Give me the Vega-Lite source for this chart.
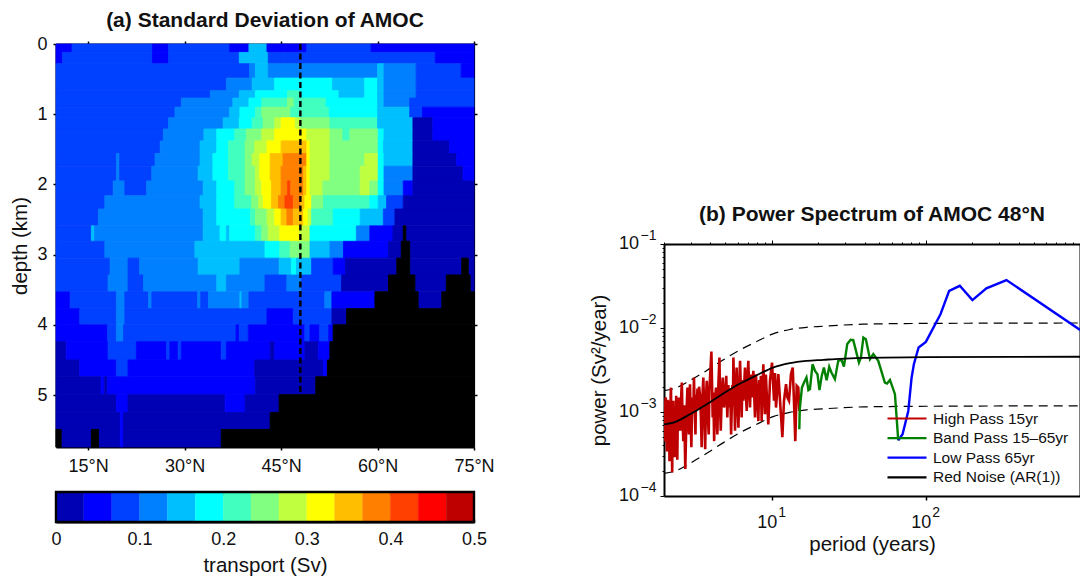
{"$schema":"https://vega.github.io/schema/vega-lite/v6.json","background":"white","padding":{"left":10,"top":9,"right":0,"bottom":0},"bounds":"flush","spacing":608,
"config":{"font":"Liberation Sans","view":{"stroke":null},"axis":{"labelColor":"#111","titleColor":"#111","tickColor":"black","domainColor":"black","grid":false,"labelFont":"Liberation Sans","titleFont":"Liberation Sans","labelFontSize":18,"titleFontSize":20.5,"titleFontWeight":"normal","domainWidth":2,"tickWidth":1.5,"zindex":1}},
"datasets":{
"cells":[
{"lat0":10,"lat1":12.5,"z0":0,"z1":0.12,"sv":0.05},{"lat0":12.5,"lat1":25,"z0":0,"z1":0.12,"sv":0.083},{"lat0":25,"lat1":27.5,"z0":0,"z1":0.12,"sv":0.05},{"lat0":27.5,"lat1":37,"z0":0,"z1":0.12,"sv":0.083},{"lat0":37,"lat1":40,"z0":0,"z1":0.12,"sv":0.05},{"lat0":40,"lat1":42.8,"z0":0,"z1":0.12,"sv":0.15},{"lat0":42.8,"lat1":49,"z0":0,"z1":0.12,"sv":0.05},{"lat0":49,"lat1":59,"z0":0,"z1":0.12,"sv":0.083},{"lat0":59,"lat1":75,"z0":0,"z1":0.12,"sv":0.05},
{"lat0":10,"lat1":11,"z0":0.12,"z1":0.28,"sv":0.05},{"lat0":11,"lat1":25,"z0":0.12,"z1":0.28,"sv":0.083},{"lat0":25,"lat1":27.5,"z0":0.12,"z1":0.28,"sv":0.05},{"lat0":27.5,"lat1":38.5,"z0":0.12,"z1":0.28,"sv":0.083},{"lat0":38.5,"lat1":43,"z0":0.12,"z1":0.28,"sv":0.15},{"lat0":43,"lat1":45.5,"z0":0.12,"z1":0.28,"sv":0.083},{"lat0":45.5,"lat1":60,"z0":0.12,"z1":0.28,"sv":0.083},{"lat0":60,"lat1":69,"z0":0.12,"z1":0.28,"sv":0.083},{"lat0":69,"lat1":75,"z0":0.12,"z1":0.28,"sv":0.05},
{"lat0":10,"lat1":40.1,"z0":0.28,"z1":0.485,"sv":0.083},{"lat0":40.1,"lat1":41,"z0":0.28,"z1":0.485,"sv":0.117},{"lat0":41,"lat1":43,"z0":0.28,"z1":0.485,"sv":0.15},{"lat0":43,"lat1":60,"z0":0.28,"z1":0.485,"sv":0.117},{"lat0":60,"lat1":61,"z0":0.28,"z1":0.485,"sv":0.15},{"lat0":61,"lat1":66,"z0":0.28,"z1":0.485,"sv":0.117},{"lat0":66,"lat1":73,"z0":0.28,"z1":0.485,"sv":0.083},{"lat0":73,"lat1":75,"z0":0.28,"z1":0.485,"sv":0.05},
{"lat0":10,"lat1":36.5,"z0":0.485,"z1":0.665,"sv":0.083},{"lat0":36.5,"lat1":40.5,"z0":0.485,"z1":0.665,"sv":0.117},{"lat0":40.5,"lat1":44,"z0":0.485,"z1":0.665,"sv":0.15},{"lat0":44,"lat1":53,"z0":0.485,"z1":0.665,"sv":0.183},{"lat0":53,"lat1":58,"z0":0.485,"z1":0.665,"sv":0.15},{"lat0":58,"lat1":60,"z0":0.485,"z1":0.665,"sv":0.183},{"lat0":60,"lat1":61,"z0":0.485,"z1":0.665,"sv":0.15},{"lat0":61,"lat1":66,"z0":0.485,"z1":0.665,"sv":0.117},{"lat0":66,"lat1":75,"z0":0.485,"z1":0.665,"sv":0.083},
{"lat0":10,"lat1":34,"z0":0.665,"z1":0.77,"sv":0.083},{"lat0":34,"lat1":38.5,"z0":0.665,"z1":0.77,"sv":0.117},{"lat0":38.5,"lat1":41,"z0":0.665,"z1":0.77,"sv":0.15},{"lat0":41,"lat1":46,"z0":0.665,"z1":0.77,"sv":0.183},{"lat0":46,"lat1":48,"z0":0.665,"z1":0.77,"sv":0.217},{"lat0":48,"lat1":54,"z0":0.665,"z1":0.77,"sv":0.183},{"lat0":54,"lat1":58,"z0":0.665,"z1":0.77,"sv":0.15},{"lat0":58,"lat1":60,"z0":0.665,"z1":0.77,"sv":0.183},{"lat0":60,"lat1":61,"z0":0.665,"z1":0.77,"sv":0.15},{"lat0":61,"lat1":66,"z0":0.665,"z1":0.77,"sv":0.117},{"lat0":66,"lat1":75,"z0":0.665,"z1":0.77,"sv":0.083},
{"lat0":10,"lat1":29.5,"z0":0.77,"z1":0.9,"sv":0.083},{"lat0":29.5,"lat1":37.5,"z0":0.77,"z1":0.9,"sv":0.117},{"lat0":37.5,"lat1":40,"z0":0.77,"z1":0.9,"sv":0.15},{"lat0":40,"lat1":42,"z0":0.77,"z1":0.9,"sv":0.183},{"lat0":42,"lat1":46,"z0":0.77,"z1":0.9,"sv":0.217},{"lat0":46,"lat1":47,"z0":0.77,"z1":0.9,"sv":0.25},{"lat0":47,"lat1":52,"z0":0.77,"z1":0.9,"sv":0.217},{"lat0":52,"lat1":60,"z0":0.77,"z1":0.9,"sv":0.183},{"lat0":60,"lat1":61,"z0":0.77,"z1":0.9,"sv":0.15},{"lat0":61,"lat1":65,"z0":0.77,"z1":0.9,"sv":0.117},{"lat0":65,"lat1":75,"z0":0.77,"z1":0.9,"sv":0.083},
{"lat0":10,"lat1":28.5,"z0":0.9,"z1":1.05,"sv":0.083},{"lat0":28.5,"lat1":37,"z0":0.9,"z1":1.05,"sv":0.117},{"lat0":37,"lat1":38.6,"z0":0.9,"z1":1.05,"sv":0.15},{"lat0":38.6,"lat1":41,"z0":0.9,"z1":1.05,"sv":0.183},{"lat0":41,"lat1":42,"z0":0.9,"z1":1.05,"sv":0.217},{"lat0":42,"lat1":46.5,"z0":0.9,"z1":1.05,"sv":0.25},{"lat0":46.5,"lat1":52.5,"z0":0.9,"z1":1.05,"sv":0.217},{"lat0":52.5,"lat1":60,"z0":0.9,"z1":1.05,"sv":0.183},{"lat0":60,"lat1":65,"z0":0.9,"z1":1.05,"sv":0.15},{"lat0":65,"lat1":67,"z0":0.9,"z1":1.05,"sv":0.083},{"lat0":67,"lat1":75,"z0":0.9,"z1":1.05,"sv":0.05},
{"lat0":10,"lat1":27.5,"z0":1.05,"z1":1.21,"sv":0.083},{"lat0":27.5,"lat1":36,"z0":1.05,"z1":1.21,"sv":0.117},{"lat0":36,"lat1":38.5,"z0":1.05,"z1":1.21,"sv":0.15},{"lat0":38.5,"lat1":40.5,"z0":1.05,"z1":1.21,"sv":0.183},{"lat0":40.5,"lat1":42.2,"z0":1.05,"z1":1.21,"sv":0.217},{"lat0":42.2,"lat1":44,"z0":1.05,"z1":1.21,"sv":0.25},{"lat0":44,"lat1":45,"z0":1.05,"z1":1.21,"sv":0.283},{"lat0":45,"lat1":47.2,"z0":1.05,"z1":1.21,"sv":0.317},{"lat0":47.2,"lat1":48,"z0":1.05,"z1":1.21,"sv":0.283},{"lat0":48,"lat1":52.6,"z0":1.05,"z1":1.21,"sv":0.25},{"lat0":52.6,"lat1":60,"z0":1.05,"z1":1.21,"sv":0.217},{"lat0":60,"lat1":65.5,"z0":1.05,"z1":1.21,"sv":0.15},{"lat0":65.5,"lat1":68.6,"z0":1.05,"z1":1.21,"sv":0.017},{"lat0":68.6,"lat1":75,"z0":1.05,"z1":1.21,"sv":0.05},
{"lat0":10,"lat1":26.7,"z0":1.21,"z1":1.38,"sv":0.083},{"lat0":26.7,"lat1":33,"z0":1.21,"z1":1.38,"sv":0.117},{"lat0":33,"lat1":35,"z0":1.21,"z1":1.38,"sv":0.15},{"lat0":35,"lat1":37.8,"z0":1.21,"z1":1.38,"sv":0.183},{"lat0":37.8,"lat1":39.6,"z0":1.21,"z1":1.38,"sv":0.217},{"lat0":39.6,"lat1":42,"z0":1.21,"z1":1.38,"sv":0.25},{"lat0":42,"lat1":44,"z0":1.21,"z1":1.38,"sv":0.283},{"lat0":44,"lat1":49,"z0":1.21,"z1":1.38,"sv":0.317},{"lat0":49,"lat1":52.6,"z0":1.21,"z1":1.38,"sv":0.283},{"lat0":52.6,"lat1":54.6,"z0":1.21,"z1":1.38,"sv":0.25},{"lat0":54.6,"lat1":55.7,"z0":1.21,"z1":1.38,"sv":0.217},{"lat0":55.7,"lat1":60.1,"z0":1.21,"z1":1.38,"sv":0.25},{"lat0":60.1,"lat1":61,"z0":1.21,"z1":1.38,"sv":0.183},{"lat0":61,"lat1":65.5,"z0":1.21,"z1":1.38,"sv":0.15},{"lat0":65.5,"lat1":68.6,"z0":1.21,"z1":1.38,"sv":0.017},{"lat0":68.6,"lat1":75,"z0":1.21,"z1":1.38,"sv":0.05},
{"lat0":10,"lat1":26.2,"z0":1.38,"z1":1.56,"sv":0.083},{"lat0":26.2,"lat1":32.4,"z0":1.38,"z1":1.56,"sv":0.117},{"lat0":32.4,"lat1":35,"z0":1.38,"z1":1.56,"sv":0.15},{"lat0":35,"lat1":36.8,"z0":1.38,"z1":1.56,"sv":0.183},{"lat0":36.8,"lat1":39.4,"z0":1.38,"z1":1.56,"sv":0.217},{"lat0":39.4,"lat1":40.9,"z0":1.38,"z1":1.56,"sv":0.25},{"lat0":40.9,"lat1":42.8,"z0":1.38,"z1":1.56,"sv":0.283},{"lat0":42.8,"lat1":45,"z0":1.38,"z1":1.56,"sv":0.317},{"lat0":45,"lat1":49,"z0":1.38,"z1":1.56,"sv":0.35},{"lat0":49,"lat1":49.5,"z0":1.38,"z1":1.56,"sv":0.317},{"lat0":49.5,"lat1":52.6,"z0":1.38,"z1":1.56,"sv":0.283},{"lat0":52.6,"lat1":60.1,"z0":1.38,"z1":1.56,"sv":0.25},{"lat0":60.1,"lat1":60.9,"z0":1.38,"z1":1.56,"sv":0.183},{"lat0":60.9,"lat1":65.5,"z0":1.38,"z1":1.56,"sv":0.15},{"lat0":65.5,"lat1":71.2,"z0":1.38,"z1":1.56,"sv":0.017},{"lat0":71.2,"lat1":75,"z0":1.38,"z1":1.56,"sv":0.05},
{"lat0":10,"lat1":19.4,"z0":1.56,"z1":1.74,"sv":0.083},{"lat0":19.4,"lat1":19.9,"z0":1.56,"z1":1.74,"sv":0.117},{"lat0":19.9,"lat1":25.4,"z0":1.56,"z1":1.74,"sv":0.083},{"lat0":25.4,"lat1":32.4,"z0":1.56,"z1":1.74,"sv":0.117},{"lat0":32.4,"lat1":34.4,"z0":1.56,"z1":1.74,"sv":0.15},{"lat0":34.4,"lat1":36.8,"z0":1.56,"z1":1.74,"sv":0.183},{"lat0":36.8,"lat1":39.4,"z0":1.56,"z1":1.74,"sv":0.217},{"lat0":39.4,"lat1":40.5,"z0":1.56,"z1":1.74,"sv":0.25},{"lat0":40.5,"lat1":41.7,"z0":1.56,"z1":1.74,"sv":0.283},{"lat0":41.7,"lat1":43.3,"z0":1.56,"z1":1.74,"sv":0.317},{"lat0":43.3,"lat1":45.3,"z0":1.56,"z1":1.74,"sv":0.35},{"lat0":45.3,"lat1":49,"z0":1.56,"z1":1.74,"sv":0.383},{"lat0":49,"lat1":49.5,"z0":1.56,"z1":1.74,"sv":0.317},{"lat0":49.5,"lat1":52.6,"z0":1.56,"z1":1.74,"sv":0.283},{"lat0":52.6,"lat1":58,"z0":1.56,"z1":1.74,"sv":0.25},{"lat0":58,"lat1":60.1,"z0":1.56,"z1":1.74,"sv":0.283},{"lat0":60.1,"lat1":61,"z0":1.56,"z1":1.74,"sv":0.183},{"lat0":61,"lat1":65.5,"z0":1.56,"z1":1.74,"sv":0.15},{"lat0":65.5,"lat1":72.3,"z0":1.56,"z1":1.74,"sv":0.017},{"lat0":72.3,"lat1":75,"z0":1.56,"z1":1.74,"sv":0.05},
{"lat0":10,"lat1":19.4,"z0":1.74,"z1":1.95,"sv":0.083},{"lat0":19.4,"lat1":19.9,"z0":1.74,"z1":1.95,"sv":0.117},{"lat0":19.9,"lat1":24.9,"z0":1.74,"z1":1.95,"sv":0.083},{"lat0":24.9,"lat1":32.1,"z0":1.74,"z1":1.95,"sv":0.117},{"lat0":32.1,"lat1":34.4,"z0":1.74,"z1":1.95,"sv":0.15},{"lat0":34.4,"lat1":36.8,"z0":1.74,"z1":1.95,"sv":0.183},{"lat0":36.8,"lat1":39.4,"z0":1.74,"z1":1.95,"sv":0.217},{"lat0":39.4,"lat1":41,"z0":1.74,"z1":1.95,"sv":0.25},{"lat0":41,"lat1":41.7,"z0":1.74,"z1":1.95,"sv":0.283},{"lat0":41.7,"lat1":43.3,"z0":1.74,"z1":1.95,"sv":0.317},{"lat0":43.3,"lat1":45,"z0":1.74,"z1":1.95,"sv":0.35},{"lat0":45,"lat1":48.5,"z0":1.74,"z1":1.95,"sv":0.383},{"lat0":48.5,"lat1":49,"z0":1.74,"z1":1.95,"sv":0.35},{"lat0":49,"lat1":49.5,"z0":1.74,"z1":1.95,"sv":0.317},{"lat0":49.5,"lat1":52.6,"z0":1.74,"z1":1.95,"sv":0.283},{"lat0":52.6,"lat1":57.3,"z0":1.74,"z1":1.95,"sv":0.25},{"lat0":57.3,"lat1":60.1,"z0":1.74,"z1":1.95,"sv":0.283},{"lat0":60.1,"lat1":61,"z0":1.74,"z1":1.95,"sv":0.183},{"lat0":61,"lat1":65.5,"z0":1.74,"z1":1.95,"sv":0.117},{"lat0":65.5,"lat1":73.3,"z0":1.74,"z1":1.95,"sv":0.017},{"lat0":73.3,"lat1":75,"z0":1.74,"z1":1.95,"sv":0.05},
{"lat0":10,"lat1":18.9,"z0":1.95,"z1":2.16,"sv":0.083},{"lat0":18.9,"lat1":20.7,"z0":1.95,"z1":2.16,"sv":0.117},{"lat0":20.7,"lat1":24.1,"z0":1.95,"z1":2.16,"sv":0.083},{"lat0":24.1,"lat1":32.9,"z0":1.95,"z1":2.16,"sv":0.117},{"lat0":32.9,"lat1":35,"z0":1.95,"z1":2.16,"sv":0.15},{"lat0":35,"lat1":37.8,"z0":1.95,"z1":2.16,"sv":0.183},{"lat0":37.8,"lat1":39.4,"z0":1.95,"z1":2.16,"sv":0.217},{"lat0":39.4,"lat1":41,"z0":1.95,"z1":2.16,"sv":0.25},{"lat0":41,"lat1":42,"z0":1.95,"z1":2.16,"sv":0.283},{"lat0":42,"lat1":43.5,"z0":1.95,"z1":2.16,"sv":0.317},{"lat0":43.5,"lat1":45,"z0":1.95,"z1":2.16,"sv":0.35},{"lat0":45,"lat1":46,"z0":1.95,"z1":2.16,"sv":0.383},{"lat0":46,"lat1":46.5,"z0":1.95,"z1":2.16,"sv":0.417},{"lat0":46.5,"lat1":48.5,"z0":1.95,"z1":2.16,"sv":0.383},{"lat0":48.5,"lat1":49,"z0":1.95,"z1":2.16,"sv":0.35},{"lat0":49,"lat1":49.5,"z0":1.95,"z1":2.16,"sv":0.317},{"lat0":49.5,"lat1":51.5,"z0":1.95,"z1":2.16,"sv":0.283},{"lat0":51.5,"lat1":57.3,"z0":1.95,"z1":2.16,"sv":0.25},{"lat0":57.3,"lat1":58.8,"z0":1.95,"z1":2.16,"sv":0.283},{"lat0":58.8,"lat1":60.1,"z0":1.95,"z1":2.16,"sv":0.25},{"lat0":60.1,"lat1":61,"z0":1.95,"z1":2.16,"sv":0.183},{"lat0":61,"lat1":64,"z0":1.95,"z1":2.16,"sv":0.117},{"lat0":64,"lat1":65.5,"z0":1.95,"z1":2.16,"sv":0.05},{"lat0":65.5,"lat1":75,"z0":1.95,"z1":2.16,"sv":0.017},
{"lat0":10,"lat1":17.6,"z0":2.16,"z1":2.35,"sv":0.083},{"lat0":17.6,"lat1":32.4,"z0":2.16,"z1":2.35,"sv":0.117},{"lat0":32.4,"lat1":35,"z0":2.16,"z1":2.35,"sv":0.15},{"lat0":35,"lat1":37.8,"z0":2.16,"z1":2.35,"sv":0.183},{"lat0":37.8,"lat1":40.4,"z0":2.16,"z1":2.35,"sv":0.217},{"lat0":40.4,"lat1":41.5,"z0":2.16,"z1":2.35,"sv":0.25},{"lat0":41.5,"lat1":42.2,"z0":2.16,"z1":2.35,"sv":0.283},{"lat0":42.2,"lat1":43.5,"z0":2.16,"z1":2.35,"sv":0.317},{"lat0":43.5,"lat1":44.6,"z0":2.16,"z1":2.35,"sv":0.35},{"lat0":44.6,"lat1":45.6,"z0":2.16,"z1":2.35,"sv":0.383},{"lat0":45.6,"lat1":46.9,"z0":2.16,"z1":2.35,"sv":0.417},{"lat0":46.9,"lat1":48,"z0":2.16,"z1":2.35,"sv":0.383},{"lat0":48,"lat1":48.7,"z0":2.16,"z1":2.35,"sv":0.35},{"lat0":48.7,"lat1":49.75,"z0":2.16,"z1":2.35,"sv":0.317},{"lat0":49.75,"lat1":51.6,"z0":2.16,"z1":2.35,"sv":0.25},{"lat0":51.6,"lat1":58.8,"z0":2.16,"z1":2.35,"sv":0.217},{"lat0":58.8,"lat1":60.1,"z0":2.16,"z1":2.35,"sv":0.183},{"lat0":60.1,"lat1":61.4,"z0":2.16,"z1":2.35,"sv":0.15},{"lat0":61.4,"lat1":64,"z0":2.16,"z1":2.35,"sv":0.083},{"lat0":64,"lat1":75,"z0":2.16,"z1":2.35,"sv":0.017},
{"lat0":10,"lat1":16.6,"z0":2.35,"z1":2.59,"sv":0.083},{"lat0":16.6,"lat1":32.9,"z0":2.35,"z1":2.59,"sv":0.117},{"lat0":32.9,"lat1":35,"z0":2.35,"z1":2.59,"sv":0.15},{"lat0":35,"lat1":40.2,"z0":2.35,"z1":2.59,"sv":0.183},{"lat0":40.2,"lat1":41,"z0":2.35,"z1":2.59,"sv":0.217},{"lat0":41,"lat1":42.8,"z0":2.35,"z1":2.59,"sv":0.25},{"lat0":42.8,"lat1":44,"z0":2.35,"z1":2.59,"sv":0.283},{"lat0":44,"lat1":45,"z0":2.35,"z1":2.59,"sv":0.317},{"lat0":45,"lat1":45.9,"z0":2.35,"z1":2.59,"sv":0.35},{"lat0":45.9,"lat1":46.9,"z0":2.35,"z1":2.59,"sv":0.383},{"lat0":46.9,"lat1":48.5,"z0":2.35,"z1":2.59,"sv":0.35},{"lat0":48.5,"lat1":49.2,"z0":2.35,"z1":2.59,"sv":0.317},{"lat0":49.2,"lat1":49.75,"z0":2.35,"z1":2.59,"sv":0.283},{"lat0":49.75,"lat1":53.1,"z0":2.35,"z1":2.59,"sv":0.217},{"lat0":53.1,"lat1":57.3,"z0":2.35,"z1":2.59,"sv":0.183},{"lat0":57.3,"lat1":60.9,"z0":2.35,"z1":2.59,"sv":0.15},{"lat0":60.9,"lat1":62.7,"z0":2.35,"z1":2.59,"sv":0.083},{"lat0":62.7,"lat1":75,"z0":2.35,"z1":2.59,"sv":0.017},
{"lat0":10,"lat1":15.5,"z0":2.59,"z1":2.81,"sv":0.083},{"lat0":15.5,"lat1":16,"z0":2.59,"z1":2.81,"sv":0.15},{"lat0":16,"lat1":32.9,"z0":2.59,"z1":2.81,"sv":0.117},{"lat0":32.9,"lat1":35.5,"z0":2.59,"z1":2.81,"sv":0.15},{"lat0":35.5,"lat1":36.5,"z0":2.59,"z1":2.81,"sv":0.183},{"lat0":36.5,"lat1":37,"z0":2.59,"z1":2.81,"sv":0.15},{"lat0":37,"lat1":41,"z0":2.59,"z1":2.81,"sv":0.183},{"lat0":41,"lat1":42,"z0":2.59,"z1":2.81,"sv":0.217},{"lat0":42,"lat1":43,"z0":2.59,"z1":2.81,"sv":0.25},{"lat0":43,"lat1":44.8,"z0":2.59,"z1":2.81,"sv":0.283},{"lat0":44.8,"lat1":47.9,"z0":2.59,"z1":2.81,"sv":0.317},{"lat0":47.9,"lat1":49.5,"z0":2.59,"z1":2.81,"sv":0.283},{"lat0":49.5,"lat1":56.7,"z0":2.59,"z1":2.81,"sv":0.183},{"lat0":56.7,"lat1":58.8,"z0":2.59,"z1":2.81,"sv":0.117},{"lat0":58.8,"lat1":62.4,"z0":2.59,"z1":2.81,"sv":0.05},{"lat0":62.4,"lat1":64,"z0":2.59,"z1":2.81,"sv":0.017},{"lat0":64.4,"lat1":75,"z0":2.59,"z1":2.81,"sv":0.017},
{"lat0":10,"lat1":17.6,"z0":2.81,"z1":3.05,"sv":0.083},{"lat0":17.6,"lat1":31.6,"z0":2.81,"z1":3.05,"sv":0.117},{"lat0":31.6,"lat1":42.5,"z0":2.81,"z1":3.05,"sv":0.15},{"lat0":42.5,"lat1":44.8,"z0":2.81,"z1":3.05,"sv":0.183},{"lat0":44.8,"lat1":46.4,"z0":2.81,"z1":3.05,"sv":0.217},{"lat0":46.4,"lat1":49.5,"z0":2.81,"z1":3.05,"sv":0.25},{"lat0":49.5,"lat1":52.6,"z0":2.81,"z1":3.05,"sv":0.15},{"lat0":52.6,"lat1":54.7,"z0":2.81,"z1":3.05,"sv":0.117},{"lat0":54.7,"lat1":61.7,"z0":2.81,"z1":3.05,"sv":0.05},{"lat0":61.7,"lat1":63.7,"z0":2.81,"z1":3.05,"sv":0.017},{"lat0":65,"lat1":75,"z0":2.81,"z1":3.05,"sv":0.017},
{"lat0":10,"lat1":18.4,"z0":3.05,"z1":3.29,"sv":0.083},{"lat0":18.4,"lat1":21.2,"z0":3.05,"z1":3.29,"sv":0.117},{"lat0":21.2,"lat1":23,"z0":3.05,"z1":3.29,"sv":0.083},{"lat0":23,"lat1":32.1,"z0":3.05,"z1":3.29,"sv":0.117},{"lat0":32.1,"lat1":38.6,"z0":3.05,"z1":3.29,"sv":0.15},{"lat0":38.6,"lat1":44.7,"z0":3.05,"z1":3.29,"sv":0.117},{"lat0":44.7,"lat1":46.6,"z0":3.05,"z1":3.29,"sv":0.15},{"lat0":46.6,"lat1":47.4,"z0":3.05,"z1":3.29,"sv":0.183},{"lat0":47.4,"lat1":49.75,"z0":3.05,"z1":3.29,"sv":0.15},{"lat0":49.75,"lat1":53.1,"z0":3.05,"z1":3.29,"sv":0.083},{"lat0":53.1,"lat1":55,"z0":3.05,"z1":3.29,"sv":0.05},{"lat0":55,"lat1":63,"z0":3.05,"z1":3.29,"sv":0.017},{"lat0":65,"lat1":73.1,"z0":3.05,"z1":3.29,"sv":0.017},{"lat0":74.1,"lat1":75,"z0":3.05,"z1":3.29,"sv":0.017},
{"lat0":10,"lat1":18.1,"z0":3.29,"z1":3.53,"sv":0.083},{"lat0":18.1,"lat1":21.2,"z0":3.29,"z1":3.53,"sv":0.117},{"lat0":21.2,"lat1":23.6,"z0":3.29,"z1":3.53,"sv":0.083},{"lat0":23.6,"lat1":35,"z0":3.29,"z1":3.53,"sv":0.117},{"lat0":35,"lat1":36.5,"z0":3.29,"z1":3.53,"sv":0.15},{"lat0":36.5,"lat1":42.5,"z0":3.29,"z1":3.53,"sv":0.117},{"lat0":42.5,"lat1":45.9,"z0":3.29,"z1":3.53,"sv":0.083},{"lat0":45.9,"lat1":48.2,"z0":3.29,"z1":3.53,"sv":0.117},{"lat0":48.2,"lat1":54.4,"z0":3.29,"z1":3.53,"sv":0.083},{"lat0":54.4,"lat1":61.7,"z0":3.29,"z1":3.53,"sv":0.017},{"lat0":65.8,"lat1":70.7,"z0":3.29,"z1":3.53,"sv":0.017},{"lat0":74.4,"lat1":75,"z0":3.29,"z1":3.53,"sv":0.017},
{"lat0":10,"lat1":12.2,"z0":3.53,"z1":3.77,"sv":0.05},{"lat0":12.2,"lat1":19.4,"z0":3.53,"z1":3.77,"sv":0.083},{"lat0":19.4,"lat1":20.7,"z0":3.53,"z1":3.77,"sv":0.117},{"lat0":20.7,"lat1":24.4,"z0":3.53,"z1":3.77,"sv":0.083},{"lat0":24.4,"lat1":24.9,"z0":3.53,"z1":3.77,"sv":0.117},{"lat0":24.9,"lat1":32,"z0":3.53,"z1":3.77,"sv":0.083},{"lat0":32,"lat1":32.5,"z0":3.53,"z1":3.77,"sv":0.117},{"lat0":32.5,"lat1":33.7,"z0":3.53,"z1":3.77,"sv":0.083},{"lat0":33.7,"lat1":38.6,"z0":3.53,"z1":3.77,"sv":0.117},{"lat0":38.6,"lat1":38.9,"z0":3.53,"z1":3.77,"sv":0.15},{"lat0":38.9,"lat1":40,"z0":3.53,"z1":3.77,"sv":0.117},{"lat0":40,"lat1":51.8,"z0":3.53,"z1":3.77,"sv":0.083},{"lat0":51.8,"lat1":52.9,"z0":3.53,"z1":3.77,"sv":0.117},{"lat0":52.9,"lat1":59.6,"z0":3.53,"z1":3.77,"sv":0.05},{"lat0":66.3,"lat1":70,"z0":3.53,"z1":3.77,"sv":0.017},
{"lat0":10,"lat1":13.7,"z0":3.77,"z1":4,"sv":0.05},{"lat0":13.7,"lat1":19.4,"z0":3.77,"z1":4,"sv":0.083},{"lat0":19.4,"lat1":20.7,"z0":3.77,"z1":4,"sv":0.117},{"lat0":20.7,"lat1":42.8,"z0":3.77,"z1":4,"sv":0.083},{"lat0":42.8,"lat1":46.9,"z0":3.77,"z1":4,"sv":0.05},{"lat0":46.9,"lat1":52.9,"z0":3.77,"z1":4,"sv":0.083},{"lat0":52.9,"lat1":55.2,"z0":3.77,"z1":4,"sv":0.017},
{"lat0":10,"lat1":18,"z0":4,"z1":4.24,"sv":0.05},{"lat0":18,"lat1":19.4,"z0":4,"z1":4.24,"sv":0.083},{"lat0":19.4,"lat1":20.5,"z0":4,"z1":4.24,"sv":0.117},{"lat0":20.5,"lat1":38,"z0":4,"z1":4.24,"sv":0.083},{"lat0":38,"lat1":38.5,"z0":4,"z1":4.24,"sv":0.05},{"lat0":38.5,"lat1":39.9,"z0":4,"z1":4.24,"sv":0.083},{"lat0":39.9,"lat1":48.7,"z0":4,"z1":4.24,"sv":0.05},{"lat0":48.7,"lat1":49.5,"z0":4,"z1":4.24,"sv":0.083},{"lat0":49.5,"lat1":51,"z0":4,"z1":4.24,"sv":0.05},{"lat0":51,"lat1":52.4,"z0":4,"z1":4.24,"sv":0.083},{"lat0":52.4,"lat1":53.1,"z0":4,"z1":4.24,"sv":0.05},
{"lat0":10,"lat1":11.6,"z0":4.24,"z1":4.5,"sv":0.017},{"lat0":11.6,"lat1":18.1,"z0":4.24,"z1":4.5,"sv":0.05},{"lat0":18.1,"lat1":22.5,"z0":4.24,"z1":4.5,"sv":0.083},{"lat0":22.5,"lat1":27.2,"z0":4.24,"z1":4.5,"sv":0.05},{"lat0":27.2,"lat1":27.7,"z0":4.24,"z1":4.5,"sv":0.083},{"lat0":27.7,"lat1":29,"z0":4.24,"z1":4.5,"sv":0.05},{"lat0":29,"lat1":29.5,"z0":4.24,"z1":4.5,"sv":0.083},{"lat0":29.5,"lat1":35.7,"z0":4.24,"z1":4.5,"sv":0.05},{"lat0":35.7,"lat1":36.5,"z0":4.24,"z1":4.5,"sv":0.083},{"lat0":36.5,"lat1":43.3,"z0":4.24,"z1":4.5,"sv":0.05},{"lat0":43.3,"lat1":44,"z0":4.24,"z1":4.5,"sv":0.017},{"lat0":44,"lat1":48.7,"z0":4.24,"z1":4.5,"sv":0.05},{"lat0":48.7,"lat1":50.8,"z0":4.24,"z1":4.5,"sv":0.017},{"lat0":50.8,"lat1":52.6,"z0":4.24,"z1":4.5,"sv":0.05},
{"lat0":10,"lat1":13.7,"z0":4.5,"z1":4.74,"sv":0.017},{"lat0":13.7,"lat1":19.4,"z0":4.5,"z1":4.74,"sv":0.05},{"lat0":19.4,"lat1":21.2,"z0":4.5,"z1":4.74,"sv":0.083},{"lat0":21.2,"lat1":40.9,"z0":4.5,"z1":4.74,"sv":0.05},{"lat0":40.9,"lat1":51.6,"z0":4.5,"z1":4.74,"sv":0.017},{"lat0":51.6,"lat1":52.2,"z0":4.5,"z1":4.74,"sv":0.05},
{"lat0":10,"lat1":17,"z0":4.74,"z1":4.995,"sv":0.017},{"lat0":17,"lat1":17.5,"z0":4.74,"z1":4.995,"sv":0.05},{"lat0":17.5,"lat1":18,"z0":4.74,"z1":4.995,"sv":0.017},{"lat0":18,"lat1":41,"z0":4.74,"z1":4.995,"sv":0.05},{"lat0":41,"lat1":50.4,"z0":4.74,"z1":4.995,"sv":0.017},
{"lat0":10,"lat1":19.4,"z0":4.995,"z1":5.25,"sv":0.017},{"lat0":19.4,"lat1":21.2,"z0":4.995,"z1":5.25,"sv":0.05},{"lat0":21.2,"lat1":36.3,"z0":4.995,"z1":5.25,"sv":0.017},{"lat0":36.3,"lat1":39.4,"z0":4.995,"z1":5.25,"sv":0.05},{"lat0":39.4,"lat1":44.7,"z0":4.995,"z1":5.25,"sv":0.017},
{"lat0":10,"lat1":20,"z0":5.25,"z1":5.49,"sv":0.017},{"lat0":20,"lat1":20.5,"z0":5.25,"z1":5.49,"sv":0.05},{"lat0":20.5,"lat1":43.3,"z0":5.25,"z1":5.49,"sv":0.017},
{"lat0":10.8,"lat1":15.5,"z0":5.49,"z1":5.74,"sv":0.017},{"lat0":16.6,"lat1":20,"z0":5.49,"z1":5.74,"sv":0.017},{"lat0":20,"lat1":20.5,"z0":5.49,"z1":5.74,"sv":0.05},{"lat0":20.5,"lat1":35.7,"z0":5.49,"z1":5.74,"sv":0.017}
],
"land":[
{"lat0":64,"lat1":64.4,"z0":2.59,"z1":2.81},{"lat0":63.7,"lat1":65,"z0":2.81,"z1":3.05},{"lat0":63,"lat1":65,"z0":3.05,"z1":3.29},{"lat0":73.1,"lat1":74.1,"z0":3.05,"z1":3.29},{"lat0":61.7,"lat1":65.8,"z0":3.29,"z1":3.53},{"lat0":70.7,"lat1":74.4,"z0":3.29,"z1":3.53},{"lat0":59.6,"lat1":66.3,"z0":3.53,"z1":3.77},{"lat0":70,"lat1":75,"z0":3.53,"z1":3.77},{"lat0":55.2,"lat1":75,"z0":3.77,"z1":4},{"lat0":53.1,"lat1":75,"z0":4,"z1":4.24},{"lat0":52.6,"lat1":75,"z0":4.24,"z1":4.5},{"lat0":52.2,"lat1":75,"z0":4.5,"z1":4.74},{"lat0":50.4,"lat1":75,"z0":4.74,"z1":4.995},{"lat0":44.7,"lat1":75,"z0":4.995,"z1":5.25},{"lat0":43.3,"lat1":75,"z0":5.25,"z1":5.49},{"lat0":35.7,"lat1":75,"z0":5.49,"z1":5.74},{"lat0":10,"lat1":10.8,"z0":5.49,"z1":5.74},{"lat0":15.5,"lat1":16.6,"z0":5.49,"z1":5.74}
],
"bar":[{"s0":0,"s1":0.0333,"sv":0.017,"y0":0,"y1":1},{"s0":0.0333,"s1":0.0667,"sv":0.05,"y0":0,"y1":1},{"s0":0.0667,"s1":0.1,"sv":0.083,"y0":0,"y1":1},{"s0":0.1,"s1":0.1333,"sv":0.117,"y0":0,"y1":1},{"s0":0.1333,"s1":0.1667,"sv":0.15,"y0":0,"y1":1},{"s0":0.1667,"s1":0.2,"sv":0.183,"y0":0,"y1":1},{"s0":0.2,"s1":0.2333,"sv":0.217,"y0":0,"y1":1},{"s0":0.2333,"s1":0.2667,"sv":0.25,"y0":0,"y1":1},{"s0":0.2667,"s1":0.3,"sv":0.283,"y0":0,"y1":1},{"s0":0.3,"s1":0.3333,"sv":0.317,"y0":0,"y1":1},{"s0":0.3333,"s1":0.3667,"sv":0.35,"y0":0,"y1":1},{"s0":0.3667,"s1":0.4,"sv":0.383,"y0":0,"y1":1},{"s0":0.4,"s1":0.4333,"sv":0.417,"y0":0,"y1":1},{"s0":0.4333,"s1":0.4667,"sv":0.45,"y0":0,"y1":1},{"s0":0.4667,"s1":0.5,"sv":0.483,"y0":0,"y1":1}],
"red":[{"period":2,"power":0.00135},{"period":2.01,"power":0.0006},{"period":2.02,"power":0.00045},{"period":2.03,"power":0.0013},{"period":2.04,"power":0.0005},{"period":2.05,"power":0.0015},{"period":2.06,"power":0.00062},{"period":2.07,"power":0.0012},{"period":2.08,"power":0.00052},{"period":2.09,"power":0.00034},{"period":2.1,"power":0.0011},{"period":2.11,"power":0.0014},{"period":2.12,"power":0.0005},{"period":2.13,"power":0.0012},{"period":2.14,"power":0.00136},{"period":2.15,"power":0.0006},{"period":2.16,"power":0.0011},{"period":2.17,"power":0.00026},{"period":2.18,"power":0.0008},{"period":2.19,"power":0.0012},{"period":2.2,"power":0.00048},{"period":2.21,"power":0.0016},{"period":2.22,"power":0.00195},{"period":2.23,"power":0.00055},{"period":2.24,"power":0.0013},{"period":2.25,"power":0.00042},{"period":2.26,"power":0.00019},{"period":2.27,"power":0.00055},{"period":2.28,"power":0.0009},{"period":2.29,"power":0.00055},{"period":2.3,"power":0.00136},{"period":2.32,"power":0.00065},{"period":2.33,"power":0.0011},{"period":2.35,"power":0.00029},{"period":2.36,"power":0.0007},{"period":2.38,"power":0.001},{"period":2.39,"power":0.0005},{"period":2.4,"power":0.00156},{"period":2.42,"power":0.0007},{"period":2.44,"power":0.00027},{"period":2.46,"power":0.0011},{"period":2.47,"power":0.0009},{"period":2.49,"power":0.0006},{"period":2.5,"power":0.00149},{"period":2.52,"power":0.00075},{"period":2.55,"power":0.0006},{"period":2.58,"power":0.0014},{"period":2.61,"power":0.00224},{"period":2.64,"power":0.0008},{"period":2.67,"power":0.00045},{"period":2.7,"power":0.0012},{"period":2.75,"power":0.00021},{"period":2.8,"power":0.001},{"period":2.84,"power":0.00195},{"period":2.87,"power":0.0009},{"period":2.9,"power":0.00054},{"period":2.92,"power":0.0015},{"period":2.95,"power":0.00214},{"period":2.98,"power":0.0008},{"period":3.01,"power":0.00038},{"period":3.04,"power":0.0012},{"period":3.07,"power":0.00149},{"period":3.1,"power":0.001},{"period":3.13,"power":0.00257},{"period":3.16,"power":0.0011},{"period":3.2,"power":0.00054},{"period":3.23,"power":0.0016},{"period":3.26,"power":0.00124},{"period":3.3,"power":0.0019},{"period":3.34,"power":0.00108},{"period":3.38,"power":0.002},{"period":3.43,"power":0.00149},{"period":3.47,"power":0.0009},{"period":3.51,"power":0.00038},{"period":3.55,"power":0.0015},{"period":3.6,"power":0.00257},{"period":3.65,"power":0.0009},{"period":3.7,"power":0.00036},{"period":3.75,"power":0.0016},{"period":3.79,"power":0.00235},{"period":3.85,"power":0.0009},{"period":3.9,"power":0.00054},{"period":3.94,"power":0.0018},{"period":3.98,"power":0.00257},{"period":4.06,"power":0.00524},{"period":4.14,"power":0.00086},{"period":4.18,"power":0.0017},{"period":4.23,"power":0.00045},{"period":4.29,"power":0.0014},{"period":4.35,"power":0.00195},{"period":4.39,"power":0.001},{"period":4.44,"power":0.00054},{"period":4.51,"power":0.0022},{"period":4.58,"power":0.00445},{"period":4.62,"power":0.0012},{"period":4.67,"power":0.0006},{"period":4.74,"power":0.0016},{"period":4.81,"power":0.00257},{"period":4.91,"power":0.00113},{"period":5,"power":0.00178},{"period":5.07,"power":0.0027},{"period":5.15,"power":0.00086},{"period":5.23,"power":0.0021},{"period":5.31,"power":0.00113},{"period":5.38,"power":0.0019},{"period":5.45,"power":0.00054},{"period":5.55,"power":0.0021},{"period":5.6,"power":0.0012},{"period":5.64,"power":0.00445},{"period":5.78,"power":0.0006},{"period":5.85,"power":0.002},{"period":5.92,"power":0.00338},{"period":6,"power":0.0012},{"period":6.08,"power":0.00065},{"period":6.15,"power":0.002},{"period":6.23,"power":0.00406},{"period":6.38,"power":0.00086},{"period":6.46,"power":0.0024},{"period":6.54,"power":0.00136},{"period":6.71,"power":0.00338},{"period":6.8,"power":0.0016},{"period":6.88,"power":0.00103},{"period":6.96,"power":0.0026},{"period":7.05,"power":0.00406},{"period":7.14,"power":0.0018},{"period":7.23,"power":0.00113},{"period":7.32,"power":0.0028},{"period":7.41,"power":0.00149},{"period":7.6,"power":0.00309},{"period":7.79,"power":0.00086},{"period":7.89,"power":0.0028},{"period":7.99,"power":0.00195},{"period":8.19,"power":0.00078},{"period":8.3,"power":0.0024},{"period":8.4,"power":0.00124},{"period":8.5,"power":0.0027},{"period":8.6,"power":0.00078},{"period":8.82,"power":0.00371},{"period":9.04,"power":0.00094},{"period":9.16,"power":0.0028},{"period":9.27,"power":0.0017},{"period":9.5,"power":0.00071},{"period":9.74,"power":0.00235},{"period":10.04,"power":0.00388},{"period":10.35,"power":0.00136},{"period":10.5,"power":0.0029},{"period":10.66,"power":0.00113},{"period":11.04,"power":0.00282},{"period":11.43,"power":0.00103},{"period":11.72,"power":0.0005},{"period":12.01,"power":0.00136},{"period":12.38,"power":0.00214},{"period":12.63,"power":0.00149},{"period":12.94,"power":0.00136},{"period":13.33,"power":0.00282},{"period":13.68,"power":0.00338},{"period":13.94,"power":0.00136},{"period":14.22,"power":0.00045},{"period":14.52,"power":0.00205},{"period":14.87,"power":0.00195},{"period":15.1,"power":0.00103}],
"green":[{"period":15.1,"power":0.000624},{"period":15.2,"power":0.00108},{"period":15.7,"power":0.00195},{"period":16.2,"power":0.00224},{"period":16.8,"power":0.00257},{"period":17.3,"power":0.00182},{"period":17.7,"power":0.00187},{"period":18.4,"power":0.0037},{"period":19.1,"power":0.00309},{"period":19.8,"power":0.00282},{"period":20.4,"power":0.00182},{"period":21.1,"power":0.00269},{"period":21.8,"power":0.00339},{"period":22.7,"power":0.00239},{"period":23.6,"power":0.00345},{"period":24.4,"power":0.00295},{"period":25.7,"power":0.00246},{"period":27,"power":0.00406},{"period":28.4,"power":0.00414},{"period":29.4,"power":0.00348},{"period":30.9,"power":0.00643},{"period":32.5,"power":0.00723},{"period":33.8,"power":0.00716},{"period":36.8,"power":0.00388},{"period":37.9,"power":0.00445},{"period":39.3,"power":0.0077},{"period":40.8,"power":0.00736},{"period":43.4,"power":0.00426},{"period":45.6,"power":0.00488},{"period":49.1,"power":0.00406},{"period":54.2,"power":0.00224},{"period":56,"power":0.00218},{"period":58.5,"power":0.00241},{"period":63,"power":0.00163},{"period":66.2,"power":0.00046}],
"blue":[{"period":66.2,"power":0.00046},{"period":70.6,"power":0.000543},{"period":76.9,"power":0.00103},{"period":80.8,"power":0.00257},{"period":83.6,"power":0.0037},{"period":89.7,"power":0.00586},{"period":100,"power":0.00684},{"period":124.4,"power":0.0146},{"period":141.6,"power":0.0277},{"period":166,"power":0.0318},{"period":200.4,"power":0.0215},{"period":247,"power":0.0296},{"period":333.4,"power":0.0372},{"period":986,"power":0.00968},{"period":1000,"power":0.0094}],
"noise":[{"period":2,"power":0.000714},{"period":2.3,"power":0.000748},{"period":2.95,"power":0.00094},{"period":3.79,"power":0.00124},{"period":4.86,"power":0.00166},{"period":6.23,"power":0.00218},{"period":7.99,"power":0.00274},{"period":10.2,"power":0.00338},{"period":13.1,"power":0.00381},{"period":16.8,"power":0.00406},{"period":21.6,"power":0.00418},{"period":27.7,"power":0.0043},{"period":39.3,"power":0.0044},{"period":100,"power":0.0045},{"period":1000,"power":0.00455}],
"bounds":[{"period":2,"upper":0.0018,"lower":0.000186},{"period":2.3,"upper":0.001885,"lower":0.000195},{"period":2.95,"upper":0.00237,"lower":0.000245},{"period":3.79,"upper":0.00312,"lower":0.000323},{"period":4.86,"upper":0.00418,"lower":0.000432},{"period":6.23,"upper":0.00549,"lower":0.000568},{"period":7.99,"upper":0.0069,"lower":0.000714},{"period":10.2,"upper":0.00852,"lower":0.00088},{"period":13.1,"upper":0.0096,"lower":0.00099},{"period":16.8,"upper":0.0102,"lower":0.00106},{"period":21.6,"upper":0.0105,"lower":0.00109},{"period":27.7,"upper":0.0108,"lower":0.00112},{"period":39.3,"upper":0.0111,"lower":0.00115},{"period":100,"upper":0.01134,"lower":0.00117},{"period":1000,"upper":0.01147,"lower":0.001185}],
"ylabels":[{"period":2,"power":0.1,"base":"10","exp":"−1"},{"period":2,"power":0.01,"base":"10","exp":"−2"},{"period":2,"power":0.001,"base":"10","exp":"−3"},{"period":2,"power":0.0001,"base":"10","exp":"−4"}],
"xlabels":[{"period":10,"power":0.0001,"base":"10","exp":"1"},{"period":100,"power":0.0001,"base":"10","exp":"2"}]
},
"hconcat":[
{"vconcat":[
{"width":418,"height":403,"title":{"text":"(a) Standard Deviation of AMOC","fontSize":21,"fontWeight":"bold","font":"Liberation Sans","color":"#111","offset":4.5},
"resolve":{"axis":{"x":"independent","y":"independent"}},
"layer":[
{"data":{"name":"cells"},"mark":{"type":"rect","strokeWidth":0.8},
"encoding":{"x":{"field":"lat0","type":"quantitative","scale":{"domain":[10,75],"nice":false,"zero":false},"axis":{"orient":"bottom","values":[15,30,45,60,75],"labelExpr":"datum.value+'°N'","title":null,"tickSize":3,"labelPadding":7,"labelFlush":false}},"x2":{"field":"lat1"},
"y":{"field":"z0","type":"quantitative","scale":{"domain":[0,5.74],"reverse":true,"nice":false,"zero":false},"axis":{"orient":"left","values":[0,1,2,3,4,5],"title":"depth (km)","tickSize":3,"labelPadding":6,"titlePadding":6,"labelFlush":false}},"y2":{"field":"z1"},
"fill":{"field":"sv","type":"quantitative","legend":null,"scale":{"type":"quantize","domain":[0,0.5],"nice":false,"range":["#0000B4","#0000FF","#0040FF","#0080FF","#00BFFF","#00FFFF","#40FFBF","#80FF80","#BFFF40","#FFFF00","#FFBF00","#FF8000","#FF4000","#FF0000","#BF0000"]}},
"stroke":{"field":"sv","type":"quantitative","legend":null,"scale":{"type":"quantize","domain":[0,0.5],"nice":false,"range":["#0000B4","#0000FF","#0040FF","#0080FF","#00BFFF","#00FFFF","#40FFBF","#80FF80","#BFFF40","#FFFF00","#FFBF00","#FF8000","#FF4000","#FF0000","#BF0000"]}}}},
{"data":{"name":"land"},"mark":{"type":"rect","fill":"black","stroke":"black","strokeWidth":1},
"encoding":{"x":{"field":"lat0","type":"quantitative","scale":{"domain":[10,75],"nice":false,"zero":false},"axis":null},"x2":{"field":"lat1"},"y":{"field":"z0","type":"quantitative","scale":{"domain":[0,5.74],"reverse":true,"nice":false,"zero":false},"axis":null},"y2":{"field":"z1"}}},
{"data":{"values":[{"lat":48,"z0":0,"z1":5}]},"mark":{"type":"rule","color":"black","strokeWidth":2.4,"strokeDash":[6,3.5]},
"encoding":{"x":{"field":"lat","type":"quantitative","scale":{"domain":[10,75],"nice":false,"zero":false},"axis":{"orient":"top","values":[15,30,45,60,75],"labels":false,"title":null,"tickSize":3}},"y":{"field":"z0","type":"quantitative","scale":{"domain":[0,5.74],"reverse":true,"nice":false,"zero":false},"axis":{"orient":"right","values":[0,1,2,3,4,5],"labels":false,"title":null,"tickSize":3,"domainWidth":1.2}},"y2":{"field":"z1"}}}
]},
{"width":418,"height":30,
"resolve":{"axis":{"x":"independent"}},
"layer":[
{"data":{"name":"bar"},"mark":{"type":"rect","strokeWidth":0.4},
"encoding":{"x":{"field":"s0","type":"quantitative","scale":{"domain":[0,0.5],"nice":false},"axis":{"orient":"bottom","values":[0,0.1,0.2,0.3,0.4,0.5],"labelExpr":"datum.value==0?'0':format(datum.value,'.1f')","title":"transport (Sv)","tickSize":-3,"labelPadding":11,"titlePadding":7,"labelFlush":false}},"x2":{"field":"s1"},
"y":{"field":"y0","type":"quantitative","scale":{"domain":[0,1],"nice":false},"axis":null},"y2":{"field":"y1"},
"fill":{"field":"sv","type":"quantitative","legend":null,"scale":{"type":"quantize","domain":[0,0.5],"nice":false,"range":["#0000B4","#0000FF","#0040FF","#0080FF","#00BFFF","#00FFFF","#40FFBF","#80FF80","#BFFF40","#FFFF00","#FFBF00","#FF8000","#FF4000","#FF0000","#BF0000"]}},
"stroke":{"field":"sv","type":"quantitative","legend":null,"scale":{"type":"quantize","domain":[0,0.5],"nice":false,"range":["#0000B4","#0000FF","#0040FF","#0080FF","#00BFFF","#00FFFF","#40FFBF","#80FF80","#BFFF40","#FFFF00","#FFBF00","#FF8000","#FF4000","#FF0000","#BF0000"]}}}},
{"data":{"values":[{"s0":0,"s1":0.5,"y0":0,"y1":1}]},"mark":{"type":"rect","fillOpacity":0,"stroke":"black","strokeWidth":2.4},
"encoding":{"x":{"field":"s0","type":"quantitative","scale":{"domain":[0,0.5],"nice":false},"axis":{"orient":"top","values":[0.1,0.2,0.3,0.4],"labels":false,"title":null,"tickSize":-3,"domain":false}},"x2":{"field":"s1"},"y":{"field":"y0","type":"quantitative","scale":{"domain":[0,1],"nice":false},"axis":null},"y2":{"field":"y1"}}}
]}
],"spacing":45,"bounds":"flush"},
{"vconcat":[
{"width":416,"height":100,"data":{"values":[{"a":0}]},"mark":{"type":"point","opacity":0},"encoding":{"x":{"field":"a","type":"quantitative","axis":null},"y":{"field":"a","type":"quantitative","axis":null}}},
{"width":416,"height":252,"title":{"text":"(b) Power Spectrum of AMOC 48°N","fontSize":21,"fontWeight":"bold","font":"Liberation Sans","color":"#111","offset":4.5},
"resolve":{"axis":{"x":"independent","y":"independent"}},
"layer":[
{"data":{"name":"bounds"},"mark":{"type":"line","color":"black","strokeWidth":1.2,"strokeDash":[9,6],"clip":true,"interpolate":"monotone"},
"encoding":{"x":{"field":"period","type":"quantitative","scale":{"type":"log","domain":[2,1000],"nice":false},"axis":{"orient":"bottom","values":[10,100],"labels":false,"title":"period (years)","tickSize":4,"titlePadding":34}},
"y":{"field":"upper","type":"quantitative","scale":{"type":"log","domain":[0.0001,0.1],"nice":false},"axis":{"orient":"left","values":[0.0001,0.0002,0.0003,0.0004,0.0005,0.0006,0.0007,0.0008,0.0009,0.001,0.002,0.003,0.004,0.005,0.006,0.007,0.008,0.009,0.01,0.02,0.03,0.04,0.05,0.06,0.07,0.08,0.09,0.1],"labels":false,"title":"power (Sv²/year)","tickSize":{"condition":{"test":"abs(log(datum.value)/LN10-round(log(datum.value)/LN10))<0.001","value":4},"value":2},"tickWidth":1,"titlePadding":50}}}},
{"data":{"name":"bounds"},"mark":{"type":"line","color":"black","strokeWidth":1.2,"strokeDash":[9,6],"clip":true,"interpolate":"monotone"},
"encoding":{"x":{"field":"period","type":"quantitative","scale":{"type":"log","domain":[2,1000],"nice":false},"axis":{"orient":"top","values":[2,3,4,5,6,7,8,9,10,20,30,40,50,60,70,80,90,100,200,300,400,500,600,700,800,900,1000],"labels":false,"title":null,"tickSize":{"condition":{"test":"abs(log(datum.value)/LN10-round(log(datum.value)/LN10))<0.001","value":4},"value":2},"tickWidth":1}},
"y":{"field":"lower","type":"quantitative","scale":{"type":"log","domain":[0.0001,0.1],"nice":false},"axis":{"orient":"right","values":[0.1],"labels":false,"title":null,"ticks":false}}}},
{"data":{"name":"red"},"mark":{"type":"line","strokeWidth":2.6,"clip":true},
"encoding":{"x":{"field":"period","type":"quantitative","scale":{"type":"log","domain":[2,1000],"nice":false},"axis":null},"y":{"field":"power","type":"quantitative","scale":{"type":"log","domain":[0.0001,0.1],"nice":false},"axis":null},
"color":{"datum":"High Pass 15yr","scale":{"domain":["High Pass 15yr","Band Pass 15–65yr","Low Pass 65yr","Red Noise (AR(1))"],"range":["#BF0000","#008000","#0000FF","#000000"]},"legend":{"title":null,"orient":"none","legendX":830,"legendY":366,"symbolType":"stroke","symbolSize":1521,"symbolStrokeWidth":2.2,"clipHeight":17,"labelFontSize":15.5,"labelFont":"Liberation Sans","labelColor":"#111","rowPadding":2.6,"labelOffset":5}}}},
{"data":{"name":"green"},"mark":{"type":"line","strokeWidth":2.4,"clip":true},
"encoding":{"x":{"field":"period","type":"quantitative","scale":{"type":"log","domain":[2,1000],"nice":false},"axis":null},"y":{"field":"power","type":"quantitative","scale":{"type":"log","domain":[0.0001,0.1],"nice":false},"axis":null},"color":{"datum":"Band Pass 15–65yr"}}},
{"data":{"name":"blue"},"mark":{"type":"line","strokeWidth":2.4,"clip":true},
"encoding":{"x":{"field":"period","type":"quantitative","scale":{"type":"log","domain":[2,1000],"nice":false},"axis":null},"y":{"field":"power","type":"quantitative","scale":{"type":"log","domain":[0.0001,0.1],"nice":false},"axis":null},"color":{"datum":"Low Pass 65yr"}}},
{"data":{"name":"noise"},"mark":{"type":"line","strokeWidth":1.8,"clip":true,"interpolate":"monotone"},
"encoding":{"x":{"field":"period","type":"quantitative","scale":{"type":"log","domain":[2,1000],"nice":false},"axis":null},"y":{"field":"power","type":"quantitative","scale":{"type":"log","domain":[0.0001,0.1],"nice":false},"axis":null},"color":{"datum":"Red Noise (AR(1))"}}},
{"data":{"name":"ylabels"},"mark":{"type":"text","align":"right","baseline":"middle","dx":-25,"fontSize":18,"color":"#111"},
"encoding":{"x":{"field":"period","type":"quantitative","scale":{"type":"log","domain":[2,1000],"nice":false},"axis":null},"y":{"field":"power","type":"quantitative","scale":{"type":"log","domain":[0.0001,0.1],"nice":false},"axis":null},"text":{"field":"base"}}},
{"data":{"name":"ylabels"},"mark":{"type":"text","align":"left","baseline":"middle","dx":-23.5,"dy":-8,"fontSize":14,"color":"#111"},
"encoding":{"x":{"field":"period","type":"quantitative","scale":{"type":"log","domain":[2,1000],"nice":false},"axis":null},"y":{"field":"power","type":"quantitative","scale":{"type":"log","domain":[0.0001,0.1],"nice":false},"axis":null},"text":{"field":"exp"}}},
{"data":{"name":"xlabels"},"mark":{"type":"text","align":"right","baseline":"middle","dx":5.5,"dy":27,"fontSize":18,"color":"#111"},
"encoding":{"x":{"field":"period","type":"quantitative","scale":{"type":"log","domain":[2,1000],"nice":false},"axis":null},"y":{"field":"power","type":"quantitative","scale":{"type":"log","domain":[0.0001,0.1],"nice":false},"axis":null},"text":{"field":"base"}}},
{"data":{"name":"xlabels"},"mark":{"type":"text","align":"left","baseline":"middle","dx":6.5,"dy":17,"fontSize":14,"color":"#111"},
"encoding":{"x":{"field":"period","type":"quantitative","scale":{"type":"log","domain":[2,1000],"nice":false},"axis":null},"y":{"field":"power","type":"quantitative","scale":{"type":"log","domain":[0.0001,0.1],"nice":false},"axis":null},"text":{"field":"exp"}}}
]}
],"spacing":100,"bounds":"flush"}
]}
